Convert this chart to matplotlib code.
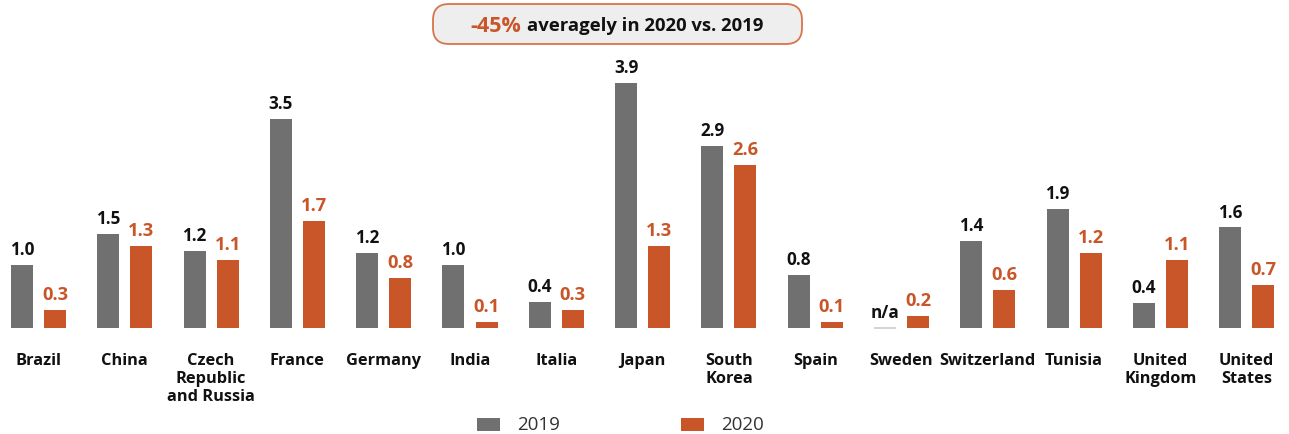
import matplotlib
matplotlib.use("Agg")
import matplotlib.pyplot as plt
from matplotlib.patches import FancyBboxPatch, Rectangle
import numpy as np

plt.rcParams['font.family'] = ['Open Sans', 'DejaVu Sans']

categories = ["Brazil", "China", "Czech\nRepublic\nand Russia", "France", "Germany", "India",
              "Italia", "Japan", "South\nKorea", "Spain", "Sweden", "Switzerland", "Tunisia",
              "United\nKingdom", "United\nStates"]
values_2019 = [1.0, 1.49, 1.22, 3.32, 1.2, 1.0, 0.42, 3.9, 2.9, 0.85, 0.0, 1.39, 1.89, 0.4, 1.6]
values_2020 = [0.29, 1.3, 1.09, 1.7, 0.8, 0.1, 0.29, 1.3, 2.59, 0.1, 0.19, 0.6, 1.2, 1.09, 0.69]
labels_2019 = ["1.0", "1.5", "1.2", "3.5", "1.2", "1.0", "0.4", "3.9", "2.9", "0.8", "n/a", "1.4", "1.9", "0.4", "1.6"]
labels_2020 = ["0.3", "1.3", "1.1", "1.7", "0.8", "0.1", "0.3", "1.3", "2.6", "0.1", "0.2", "0.6", "1.2", "1.1", "0.7"]
series_names = ["2019", "2020"]
title_highlight = "-45%"
title_rest = "averagely in 2020 vs. 2019"

GRAY = "#707070"
ORANGE = "#C85628"

W, H = 1289, 435
fig = plt.figure(figsize=(W / 100, H / 100), dpi=100)
ax = fig.add_axes([0, 106 / H, 1, 245 / H])
x = np.arange(len(categories))
step = 86.3
ax.set_xlim(-38.5 / step, (W - 38.5) / step)
ax.set_ylim(0, 3.9 * 245 / 245)
off = 16.5 / step
bw = 22 / step

b19 = ax.bar(x - off, values_2019, bw, color=GRAY)
b20 = ax.bar(x + off, values_2020, bw, color=ORANGE)
for i, v in enumerate(values_2019):
    if labels_2019[i] == "n/a":
        b19[i].set_visible(False)
        ax.plot([x[i] - off - bw / 2, x[i] - off + bw / 2], [0, 0], color="#CCCCCC", lw=1.2,
                clip_on=False, solid_capstyle="butt")

for i in range(len(categories)):
    ax.annotate(labels_2019[i], (x[i] - off, values_2019[i]), xytext=(0, 5), textcoords="offset points",
                ha="center", va="bottom", fontsize=12.3, fontweight="bold", color="#111111",
                annotation_clip=False)
    ax.annotate(labels_2020[i], (x[i] + off, values_2020[i]), xytext=(0, 5), textcoords="offset points",
                ha="center", va="bottom", fontsize=13.2, fontweight="bold", color=ORANGE,
                annotation_clip=False)
    ax.annotate(categories[i], (x[i], 0), xytext=(0, -17.5), textcoords="offset points",
                ha="center", va="top", fontsize=11.8, fontweight="bold", color="#111111",
                linespacing=1.15, annotation_clip=False)

ax.axis("off")

# overlay in pixel coordinates
ov = fig.add_axes([0, 0, 1, 1], zorder=5)
ov.set_xlim(0, W)
ov.set_ylim(H, 0)
ov.axis("off")
box = FancyBboxPatch((433, 5), 802 - 433, 40, boxstyle="round,pad=0,rounding_size=16",
                     facecolor="#EEEEEE", edgecolor="#D9744A", lw=1.3)
ov.add_patch(box)
ov.text(521, 26, title_highlight, ha="right", va="center", fontsize=15.5,
        fontweight="bold", color=ORANGE)
ov.text(527, 26, title_rest, ha="left", va="center", fontsize=13.3,
        fontweight="bold", color="#111111")

# Legend
for (lx, col, name) in [(477, GRAY, series_names[0]), (681, ORANGE, series_names[1])]:
    ov.add_patch(Rectangle((lx, 419), 23, 13, facecolor=col, edgecolor="none"))
    ov.text(lx + 40, 425, name, ha="left", va="center", fontsize=13.5, color="#333333")

fig.savefig("out.png", dpi=100)
